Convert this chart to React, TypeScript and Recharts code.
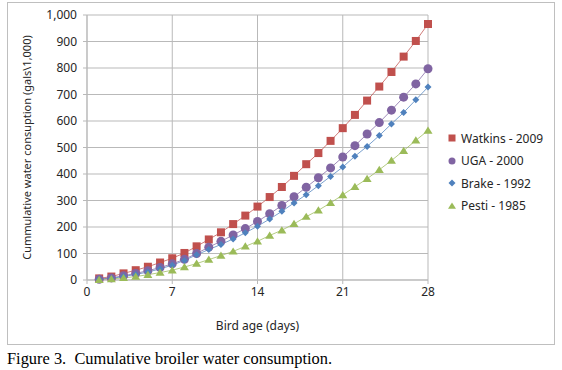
import { CartesianGrid, Legend, Line, LineChart, XAxis, YAxis } from "recharts";

const days = [
  1, 2, 3, 4, 5, 6, 7, 8, 9, 10, 11, 12, 13, 14, 15, 16, 17, 18, 19, 20, 21,
  22, 23, 24, 25, 26, 27, 28,
];

const watkins2009 = [
  6, 13, 25, 37, 50, 66, 82, 102, 127, 153, 180, 211, 243, 277, 313, 351, 393,
  437, 479, 525, 573, 623, 677, 730, 785, 843, 902, 966,
];
const uga2000 = [
  3, 8, 16, 25, 35, 47, 61, 78, 100, 124, 146, 170, 194, 221, 250, 281, 314,
  350, 386, 423, 464, 507, 551, 594, 641, 690, 740, 797,
];
const brake1992 = [
  2, 6, 13, 21, 30, 42, 56, 74, 95, 115, 134, 155, 178, 203, 230, 259, 291,
  322, 356, 391, 426, 467, 504, 545, 589, 632, 680, 728,
];
const pesti1985 = [
  1, 4, 8, 13, 20, 28, 37, 49, 62, 77, 92, 108, 127, 146, 168, 188, 212, 239,
  263, 291, 321, 352, 382, 416, 451, 488, 527, 564,
];

const xTicks = [0, 7, 14, 21, 28];
const yTicks = [0, 100, 200, 300, 400, 500, 600, 700, 800, 900, 1000];

const data = days.map((d, i) => ({
  day: d,
  watkins: watkins2009[i],
  uga: uga2000[i],
  brake: brake1992[i],
  pesti: pesti1985[i],
}));

type Shape = "square" | "circle" | "diamond" | "triangle";

const series: { key: string; name: string; color: string; shape: Shape }[] = [
  { key: "watkins", name: "Watkins - 2009", color: "#C0504D", shape: "square" },
  { key: "uga", name: "UGA - 2000", color: "#8064A2", shape: "circle" },
  { key: "brake", name: "Brake - 1992", color: "#4F81BD", shape: "diamond" },
  { key: "pesti", name: "Pesti - 1985", color: "#9BBB59", shape: "triangle" },
];

const FONT = "'Noto Sans', sans-serif";
const GRID = "#b9b9b9";
const TEXT = "#262626";

function marker(shape: Shape, cx: number, cy: number, color: string, r: number) {
  if (shape === "square")
    return <rect x={cx - r} y={cy - r} width={2 * r} height={2 * r} fill={color} />;
  if (shape === "circle") return <circle cx={cx} cy={cy} r={r + 0.5} fill={color} />;
  if (shape === "diamond")
    return (
      <polygon
        points={`${cx},${cy - r} ${cx + r},${cy} ${cx},${cy + r} ${cx - r},${cy}`}
        fill={color}
      />
    );
  return (
    <polygon
      points={`${cx},${cy - r} ${cx + r + 0.5},${cy + r * 0.8} ${cx - r - 0.5},${cy + r * 0.8}`}
      fill={color}
    />
  );
}

function makeDot(shape: Shape, color: string) {
  const size = shape === "diamond" ? 3.5 : 4;
  return (props: any) => {
    const { cx, cy, index } = props;
    if (cx == null || cy == null) return <g key={index} />;
    return <g key={index}>{marker(shape, cx, cy, color, size)}</g>;
  };
}

function LegendBox() {
  return (
    <div style={{ fontFamily: FONT, fontSize: 12, color: TEXT }}>
      {series.map((s) => (
        <div
          key={s.key}
          style={{ display: "flex", alignItems: "center", height: 22.5 }}
        >
          <svg width={10} height={10} style={{ marginRight: 4 }}>
            {marker(s.shape, 5, 5, s.color, s.shape === "circle" ? 3 : 3.5)}
          </svg>
          <span>{s.name}</span>
        </div>
      ))}
    </div>
  );
}

export default function App() {
  return (
    <div
      style={{
        position: "absolute",
        left: 0,
        top: 0,
        width: 562,
        height: 370,
        background: "#fff",
      }}
    >
      <div
        style={{
          position: "absolute",
          left: 7,
          top: 2,
          width: 546,
          height: 341,
          border: "1px solid #bfbfbf",
        }}
      >
        <LineChart
          width={546}
          height={341}
          data={data}
          margin={{ top: 12, right: 16, bottom: 10, left: 0 }}
        >
          <CartesianGrid stroke={GRID} />
          <XAxis
            dataKey="day"
            type="number"
            domain={[0, 28]}
            ticks={xTicks}
            stroke={GRID}
            tickSize={4}
            tickMargin={3}
            height={54}
            tick={{ fill: TEXT, fontSize: 12, fontFamily: FONT }}
            label={{
              value: "Bird age (days)",
              position: "insideBottom",
              offset: 4,
              fill: TEXT,
              fontSize: 12,
              fontFamily: FONT,
            }}
          />
          <YAxis
            type="number"
            domain={[0, 1000]}
            ticks={yTicks}
            width={79}
            stroke={GRID}
            tickSize={4}
            tickMargin={6}
            tickFormatter={(v: number) => v.toLocaleString("en-US")}
            tick={{ fill: TEXT, fontSize: 12, fontFamily: FONT }}
            label={{
              value: "Cummulative water consuption (gals\\1,000)",
              angle: -90,
              position: "insideLeft",
              offset: 19,
              fill: TEXT,
              fontSize: 11,
              fontFamily: FONT,
              style: { textAnchor: "middle" },
            }}
          />
          <Legend
            layout="vertical"
            align="right"
            verticalAlign="middle"
            content={() => <LegendBox />}
            wrapperStyle={{ left: 439, top: 124, width: 110 }}
          />
          {series.map((s) => (
            <Line
              key={s.key}
              dataKey={s.key}
              name={s.name}
              stroke={s.color}
              strokeOpacity={0.75}
              strokeWidth={1}
              dot={makeDot(s.shape, s.color)}
              isAnimationActive={false}
            />
          ))}
        </LineChart>
      </div>
      <div
        style={{
          position: "absolute",
          left: 7,
          top: 349,
          fontFamily: "'Liberation Serif', serif",
          fontSize: 16.4,
          color: "#000",
          whiteSpace: "pre",
        }}
      >
        Figure 3.  Cumulative broiler water consumption.
      </div>
    </div>
  );
}
